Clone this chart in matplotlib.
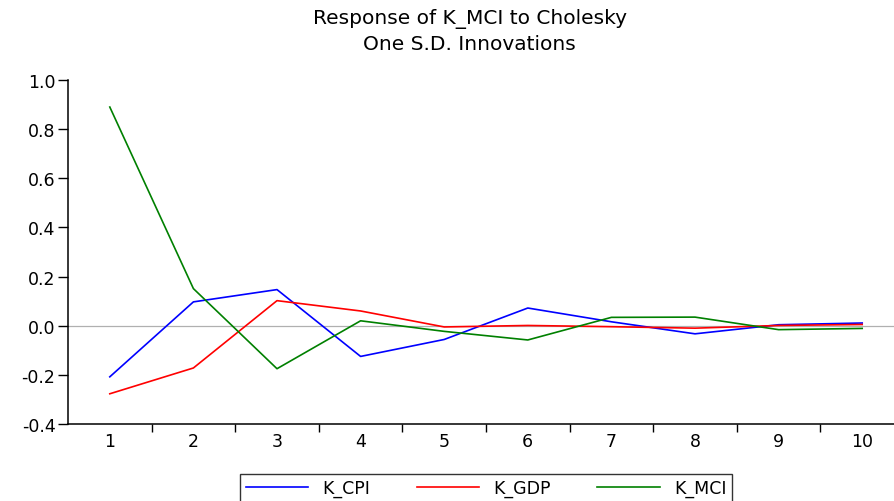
import matplotlib
matplotlib.use("Agg")
import matplotlib.pyplot as plt
from matplotlib.ticker import FixedLocator

plt.rcParams["font.family"] = ["DejaVu Sans"]

periods = [1, 2, 3, 4, 5, 6, 7, 8, 9, 10]
k_cpi = [-0.208, 0.097, 0.147, -0.125, -0.056, 0.072, 0.016, -0.033, 0.004, 0.011]
k_gdp = [-0.277, -0.172, 0.102, 0.060, -0.005, 0.001, -0.004, -0.010, 0.001, 0.005]
k_mci = [0.890, 0.151, -0.175, 0.020, -0.023, -0.058, 0.034, 0.035, -0.016, -0.011]
y_ticks = [-0.4, -0.2, 0.0, 0.2, 0.4, 0.6, 0.8, 1.0]


def plot() -> None:
    fig = plt.figure(figsize=(8.95, 5.02), dpi=100)
    ax = fig.add_axes([68 / 895, 77 / 502, 836 / 895, 344 / 502])

    ax.axhline(0, color="#b0b0b0", linewidth=0.9, zorder=1)
    ax.plot(periods, k_cpi, color="#0000ff", linewidth=1.2, label="K_CPI")
    ax.plot(periods, k_gdp, color="#ff0000", linewidth=1.2, label="K_GDP")
    ax.plot(periods, k_mci, color="#008000", linewidth=1.2, label="K_MCI")

    ax.set_xlim(0.5, 10.5)
    ax.set_ylim(-0.4, 1.0)
    ax.set_yticks(y_ticks)
    ax.set_yticklabels([f"{t:.1f}" for t in y_ticks])
    ax.set_xticks(periods)
    ax.xaxis.set_minor_locator(FixedLocator([p + 0.5 for p in periods[:-1]]))
    ax.tick_params(axis="x", which="major", length=0, pad=6, labelsize=12.5)
    ax.tick_params(axis="x", which="minor", length=6, width=1, direction="out")
    ax.tick_params(axis="y", length=7, width=1, direction="out", labelsize=12.5, pad=2)

    for side in ("top", "right"):
        ax.spines[side].set_visible(False)
    for side in ("left", "bottom"):
        ax.spines[side].set_linewidth(1.1)

    fig.text(0.525, 0.962, "Response of K_MCI to Cholesky", ha="center", va="center", fontsize=14.5)
    fig.text(0.525, 0.912, "One S.D. Innovations", ha="center", va="center", fontsize=14.5)

    leg = fig.legend(loc="upper center", bbox_to_anchor=(0.543, 0.054), ncol=3,
                     fontsize=12.5, handlelength=3.6, columnspacing=2.7,
                     frameon=True, fancybox=False, borderpad=0.3, borderaxespad=0)
    leg.get_frame().set_edgecolor("black")
    leg.get_frame().set_linewidth(1.0)

    fig.savefig("out.png", dpi=100)


if __name__ == "__main__":
    plot()
